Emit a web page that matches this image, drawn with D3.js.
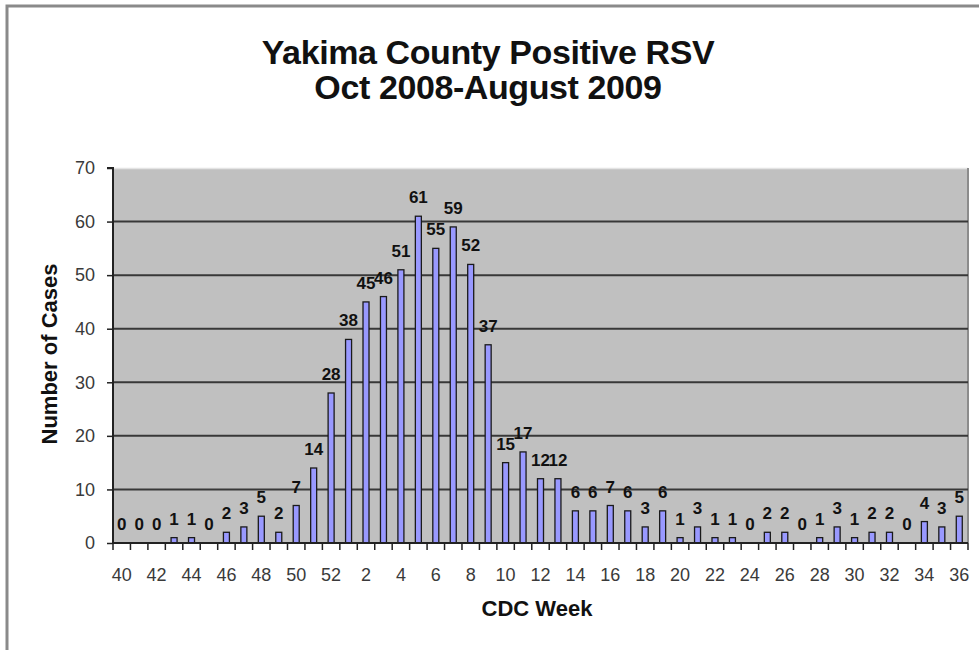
<!DOCTYPE html>
<html><head><meta charset="utf-8">
<script src="https://cdn.jsdelivr.net/npm/d3@7"></script>
<style>html,body{margin:0;padding:0;background:#fff;}svg{display:block;}</style>
</head><body>
<svg id="c" width="979" height="650"></svg>
<script>
const weeks = [40,41,42,43,44,45,46,47,48,49,50,51,52,1,2,3,4,5,6,7,8,9,10,11,12,13,14,15,16,17,18,19,20,21,22,23,24,25,26,27,28,29,30,31,32,33,34,35,36];
const cases = [0,0,0,1,1,0,2,3,5,2,7,14,28,38,45,46,51,61,55,59,52,37,15,17,12,12,6,6,7,6,3,6,1,3,1,1,0,2,2,0,1,3,1,2,2,0,4,3,5];
const yTicks = [0,10,20,30,40,50,60,70];
const titleLines = ["Yakima County Positive RSV","Oct 2008-August 2009"];
const xTitle = "CDC Week";
const yTitle = "Number of Cases";

const svg = d3.select("#c");
const L = 113, R = 968, T = 168, B = 543;
const font = "'Liberation Sans', Arial, sans-serif";

// outer frame
svg.append("rect").attr("x",7).attr("y",6).attr("width",1000).attr("height",700)
  .attr("fill","#fff").attr("stroke","#8a8a8a").attr("stroke-width",3);

const x = d3.scaleBand().domain(d3.range(weeks.length)).range([L,R]);
const y = d3.scaleLinear().domain([0,70]).range([B,T]);

// plot area
svg.append("rect").attr("x",L).attr("y",T).attr("width",R-L).attr("height",B-T)
  .attr("fill","#c0c0c0").attr("stroke","none");
svg.append("line").attr("x1",L).attr("x2",R).attr("y1",T+0.5).attr("y2",T+0.5).attr("stroke","#e4e4e4").attr("stroke-width",1.5);
svg.append("line").attr("x1",R).attr("x2",R).attr("y1",T).attr("y2",B).attr("stroke","#8c8c8c").attr("stroke-width",2);

// gridlines
svg.append("g").selectAll("line").data(yTicks.filter(d=>d>0 && d<70)).join("line")
  .attr("x1",L).attr("x2",R).attr("y1",d=>y(d)).attr("y2",d=>y(d))
  .attr("stroke","#383838").attr("stroke-width",2);

// bars
const bw = 6;
svg.append("g").selectAll("rect").data(cases).join("rect")
  .attr("x",(d,i)=>x(i)+x.bandwidth()/2-bw/2)
  .attr("y",d=>y(d))
  .attr("width",bw)
  .attr("height",d=>B-y(d))
  .attr("fill","#9999ff").attr("stroke","#1a1a1a").attr("stroke-width",1.3);

// value labels
svg.append("g").selectAll("text").data(cases).join("text")
  .attr("x",(d,i)=>x(i)+x.bandwidth()/2)
  .attr("y",d=>y(d)-13)
  .attr("text-anchor","middle")
  .attr("font-family",font).attr("font-weight","bold").attr("font-size",17)
  .attr("fill","#111")
  .text(d=>d);

// y axis
const yAxis = d3.axisLeft(y).tickValues(yTicks).tickSize(6).tickPadding(12);
const gy = svg.append("g").attr("transform",`translate(${L},0)`).call(yAxis);
gy.select(".domain").attr("stroke","#222").attr("stroke-width",2).attr("d",`M-6,${T}H0V${B}`);
gy.selectAll(".tick line").attr("stroke","#222").attr("stroke-width",1.5);
gy.selectAll(".tick text").attr("font-family",font).attr("font-size",18).attr("fill","#3a3a3a");

// x axis
svg.append("line").attr("x1",L).attr("x2",R).attr("y1",B).attr("y2",B).attr("stroke","#222").attr("stroke-width",2);
svg.append("g").selectAll("line").data(d3.range(weeks.length+1)).join("line")
  .attr("x1",i=>L+i*x.step()).attr("x2",i=>L+i*x.step())
  .attr("y1",B).attr("y2",B+7).attr("stroke","#222").attr("stroke-width",1.5);
svg.append("g").selectAll("text").data(weeks.map((w,i)=>({w,i})).filter(d=>d.i%2===0)).join("text")
  .attr("x",d=>x(d.i)+x.bandwidth()/2)
  .attr("y",B+38)
  .attr("text-anchor","middle")
  .attr("font-family",font).attr("font-size",18).attr("fill","#3a3a3a")
  .text(d=>d.w);

// titles
svg.append("g").selectAll("text").data(titleLines).join("text")
  .attr("x",488).attr("y",(d,i)=>64+i*35)
  .attr("text-anchor","middle")
  .attr("font-family",font).attr("font-weight","bold").attr("font-size",34)
  .attr("letter-spacing","-0.4")
  .attr("fill","#111")
  .text(d=>d);

svg.append("text").attr("x",537).attr("y",616).attr("text-anchor","middle")
  .attr("font-family",font).attr("font-weight","bold").attr("font-size",22).attr("fill","#111")
  .text(xTitle);

svg.append("text").attr("transform","translate(57,354) rotate(-90)").attr("text-anchor","middle")
  .attr("font-family",font).attr("font-weight","bold").attr("font-size",22).attr("fill","#111")
  .text(yTitle);
</script>
</body></html>
